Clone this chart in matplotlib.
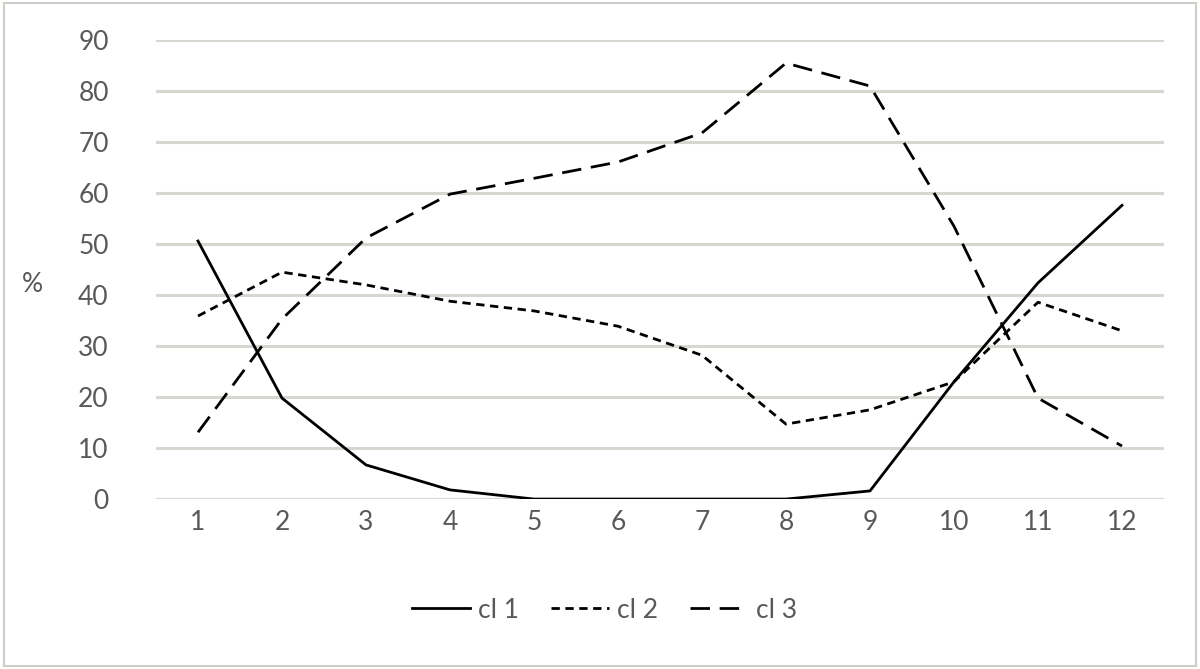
import matplotlib
matplotlib.use("Agg")
import matplotlib.pyplot as plt
from matplotlib.patches import Rectangle

# datos
meses = [1, 2, 3, 4, 5, 6, 7, 8, 9, 10, 11, 12]
cl1 = [50.6, 19.8, 6.7, 1.8, 0, 0, 0, 0, 1.6, 23, 42.4, 57.6]
cl2 = [35.9, 44.5, 42, 38.8, 36.9, 33.9, 28.2, 14.7, 17.5, 23, 38.6, 33]
cl3 = [13.1, 35.3, 51.2, 59.8, 62.9, 66.1, 71.8, 85.5, 81, 53.5, 19.8, 10.4]
etiquetas = ["cl 1", "cl 2", "cl 3"]

plt.rcParams['font.family'] = ['Lato', 'DejaVu Sans']
gris = '#595959'
tam = 19

fig = plt.figure(figsize=(12, 6.69), dpi=100)
ax = fig.add_axes([0.13, 0.254, 0.84, 0.686])

# borde exterior
fig.patches.append(Rectangle((0.003, 0.004), 0.994, 0.992, transform=fig.transFigure,
                             fill=False, edgecolor='#d0ccc8', linewidth=1.5))

ax.plot(meses, cl1, color='black', linewidth=2, linestyle='-', label=etiquetas[0])
ax.plot(meses, cl2, color='black', linewidth=2, linestyle=(0, (3, 2)), label=etiquetas[1])
ax.plot(meses, cl3, color='black', linewidth=2, linestyle=(0, (7, 3.5)), label=etiquetas[2])

ax.set_xlim(0.5, 12.5)
ax.set_ylim(0, 90)
ax.set_xticks(meses)
ax.set_yticks(range(0, 91, 10))
ax.yaxis.grid(True, color='#d9d5d0', linewidth=2.2)
ax.set_axisbelow(True)
for s in ax.spines.values():
    s.set_visible(False)
ax.tick_params(length=0, labelsize=tam, labelcolor=gris)
ax.tick_params(axis='x', pad=8)
ax.tick_params(axis='y', pad=34)

ax.set_ylabel('%', rotation=0, fontsize=tam, color=gris)
ax.yaxis.set_label_coords(-0.123, 0.44)

ax.legend(loc='upper center', bbox_to_anchor=(0.445, -0.163), ncol=3, frameon=False,
          fontsize=tam, labelcolor=gris, handlelength=2.2, columnspacing=1.2, handletextpad=0.3)

fig.savefig('out.png', dpi=100)
